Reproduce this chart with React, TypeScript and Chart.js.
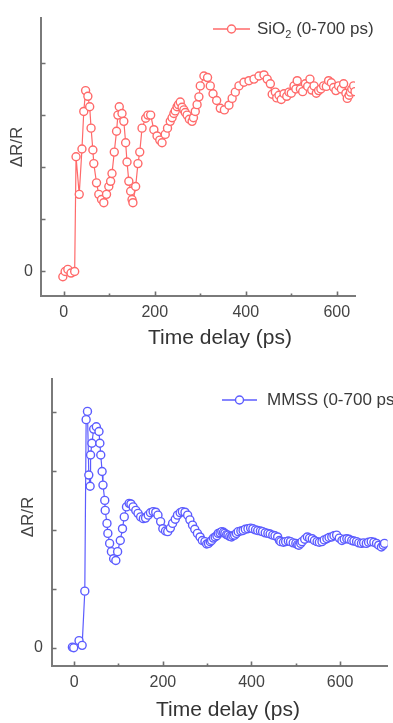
import React, { useEffect, useRef } from 'react';
import { Chart, registerables } from 'chart.js';

Chart.register(...registerables);

// ---------- data ----------
const sio2Time = [-2, 3, 9, 16, 24, 27, 34, 40, 44, 48, 53, 57, 60, 64, 66, 72, 77, 83, 88, 94, 99, 103, 106, 111, 116, 119, 122, 128, 132, 136, 139, 143, 147, 150, 152, 158, 163, 167, 172, 180, 185, 191, 198, 205, 211, 216, 223, 228, 234, 238, 242, 245, 249, 252, 256, 260, 264, 267, 271, 276, 282, 285, 289, 293, 297, 300, 308, 316, 322, 328, 336, 344, 353, 363, 370, 377, 385, 396, 407, 418, 429, 440, 447, 454, 458, 465, 468, 473, 478, 484, 490, 495, 500, 506, 510, 513, 520, 525, 531, 536, 541, 545, 550, 555, 560, 565, 571, 577, 582, 588, 593, 598, 604, 610, 615, 620, 623, 627, 630, 633, 637, 640];
const sio2Values = [-0.1, 0, 0.04, -0.03, 0, 2.2, 1.48, 2.35, 3.07, 3.47, 3.36, 3.16, 2.75, 2.33, 2.07, 1.7, 1.48, 1.38, 1.32, 1.48, 1.63, 1.73, 1.88, 2.29, 2.69, 3.0, 3.16, 3.03, 2.88, 2.47, 2.1, 1.73, 1.54, 1.38, 1.32, 1.63, 2.07, 2.29, 2.75, 2.94, 3.0, 3.0, 2.72, 2.6, 2.52, 2.47, 2.63, 2.75, 2.88, 2.95, 3.03, 3.08, 3.16, 3.2, 3.25, 3.15, 3.1, 3.05, 3.0, 2.92, 2.88, 2.95, 3.07, 3.2, 3.35, 3.56, 3.75, 3.72, 3.56, 3.41, 3.28, 3.13, 3.1, 3.19, 3.32, 3.44, 3.56, 3.63, 3.66, 3.69, 3.75, 3.77, 3.69, 3.6, 3.4, 3.44, 3.33, 3.38, 3.3, 3.41, 3.36, 3.44, 3.42, 3.56, 3.5, 3.66, 3.5, 3.45, 3.6, 3.55, 3.69, 3.48, 3.56, 3.42, 3.47, 3.5, 3.56, 3.55, 3.66, 3.62, 3.53, 3.47, 3.56, 3.5, 3.6, 3.42, 3.32, 3.38, 3.44, 3.5, 3.56, 3.45];

const mmssTime = [-4, -1, 11, 18, 24, 27, 30, 33, 36, 37, 40, 44, 50, 56, 58, 60, 63, 65, 69, 70, 74, 76, 80, 84, 89, 94, 98, 104, 109, 113, 118, 124, 128, 133, 139, 144, 150, 156, 161, 167, 172, 178, 184, 189, 195, 200, 206, 211, 217, 222, 228, 233, 239, 244, 250, 256, 261, 267, 272, 278, 284, 289, 295, 299, 303, 307, 310, 314, 318, 322, 325, 329, 333, 337, 340, 344, 347, 351, 355, 358, 362, 366, 370, 376, 381, 386, 392, 398, 403, 409, 414, 420, 425, 431, 437, 442, 448, 453, 459, 463, 466, 472, 477, 483, 488, 494, 500, 504, 507, 511, 514, 520, 526, 531, 537, 542, 548, 553, 559, 564, 570, 575, 581, 586, 592, 598, 604, 609, 615, 620, 626, 631, 637, 642, 648, 653, 659, 664, 670, 676, 682, 687, 693, 697, 700];
const mmssValues = [0.01, 0, 0.12, 0.04, 0.96, 3.87, 4.01, 2.93, 2.74, 3.27, 3.47, 3.71, 3.75, 3.67, 3.47, 3.27, 2.99, 2.76, 2.5, 2.33, 2.11, 1.94, 1.77, 1.63, 1.51, 1.48, 1.63, 1.82, 2.02, 2.22, 2.39, 2.45, 2.44, 2.39, 2.33, 2.28, 2.22, 2.19, 2.2, 2.25, 2.29, 2.31, 2.3, 2.25, 2.14, 2.02, 1.98, 1.97, 2.03, 2.11, 2.18, 2.25, 2.29, 2.31, 2.3, 2.25, 2.17, 2.08, 2.01, 1.94, 1.88, 1.82, 1.8, 1.76, 1.77, 1.8, 1.82, 1.86, 1.88, 1.9, 1.94, 1.95, 1.97, 1.96, 1.94, 1.92, 1.91, 1.89, 1.88, 1.9, 1.91, 1.94, 1.97, 1.98, 1.99, 2.01, 2.02, 2.03, 2.02, 2.0, 1.99, 1.98, 1.97, 1.95, 1.94, 1.93, 1.91, 1.9, 1.88, 1.82, 1.8, 1.79, 1.8, 1.81, 1.8, 1.78, 1.77, 1.75, 1.74, 1.77, 1.8, 1.84, 1.88, 1.86, 1.85, 1.82, 1.8, 1.79, 1.8, 1.83, 1.85, 1.87, 1.88, 1.9, 1.91, 1.86, 1.82, 1.84, 1.85, 1.84, 1.82, 1.81, 1.8, 1.78, 1.77, 1.78, 1.77, 1.79, 1.8, 1.79, 1.77, 1.74, 1.71, 1.74, 1.77];

const xTickValues = [0, 200, 400, 600];
const xMinorTickValues = [100, 300, 500];
const yTickValues = [0, 1, 2, 3, 4];

const xTitle = 'Time delay (ps)';
const yTitle = 'ΔR/R';

const FONT = "'Liberation Sans', Arial, Helvetica, sans-serif";

// ---------- plugins ----------
const inwardTicks = {
  id: 'inwardTicks',
  afterDraw(chart: any) {
    const { ctx, chartArea, scales } = chart;
    const x = scales.x;
    const y = scales.y;
    ctx.save();
    ctx.strokeStyle = '#6f6f6f';
    ctx.lineWidth = 1.6;
    ctx.beginPath();
    xTickValues.forEach((v) => {
      const px = Math.round(x.getPixelForValue(v)) + 0.5;
      ctx.moveTo(px, chartArea.bottom);
      ctx.lineTo(px, chartArea.bottom - 4.5);
    });
    xMinorTickValues.forEach((v) => {
      const px = Math.round(x.getPixelForValue(v)) + 0.5;
      ctx.moveTo(px, chartArea.bottom);
      ctx.lineTo(px, chartArea.bottom - 2.5);
    });
    yTickValues.forEach((v) => {
      const py = Math.round(y.getPixelForValue(v)) + 0.5;
      ctx.moveTo(chartArea.left, py);
      ctx.lineTo(chartArea.left + 4.5, py);
    });
    ctx.stroke();
    ctx.restore();
  },
};

const axisTitles = {
  id: 'axisTitles',
  afterDraw(chart: any, _args: any, opts: any) {
    if (!opts || !opts.xTitle) return;
    const { ctx } = chart;
    ctx.save();
    ctx.textAlign = 'center';
    ctx.textBaseline = 'middle';
    ctx.fillStyle = '#333333';
    ctx.font = `21px ${FONT}`;
    ctx.fillText(opts.xTitle, opts.xTitleX, opts.xTitleY);
    ctx.translate(opts.yTitleX, opts.yTitleY);
    ctx.rotate(-Math.PI / 2);
    ctx.fillStyle = '#444444';
    ctx.font = `17px ${FONT}`;
    ctx.fillText(opts.yTitle, 0, 0);
    ctx.restore();
  },
};

const panelLegend = {
  id: 'panelLegend',
  afterDraw(chart: any, _args: any, opts: any) {
    if (!opts || !opts.color) return;
    const { ctx } = chart;
    ctx.save();
    ctx.strokeStyle = opts.color;
    ctx.lineWidth = 1.3;
    ctx.beginPath();
    ctx.moveTo(opts.lineX0, opts.y);
    ctx.lineTo(opts.lineX1, opts.y);
    ctx.stroke();
    ctx.beginPath();
    ctx.arc((opts.lineX0 + opts.lineX1) / 2, opts.y, 4, 0, Math.PI * 2);
    ctx.fillStyle = '#ffffff';
    ctx.fill();
    ctx.lineWidth = 1.4;
    ctx.stroke();
    ctx.fillStyle = '#3a3a3a';
    ctx.textBaseline = 'middle';
    ctx.textAlign = 'left';
    ctx.font = `17px ${FONT}`;
    let tx = opts.textX;
    ctx.fillText(opts.text, tx, opts.y);
    tx += ctx.measureText(opts.text).width;
    if (opts.sub) {
      ctx.font = `11px ${FONT}`;
      ctx.fillText(opts.sub, tx, opts.y + 6);
      tx += ctx.measureText(opts.sub).width;
      ctx.font = `17px ${FONT}`;
      ctx.fillText(opts.rest, tx, opts.y);
    }
    ctx.restore();
  },
};

type PanelProps = {
  time: number[];
  values: number[];
  color: string;
  width: number;
  height: number;
  top: number;
  xMin: number;
  xMax: number;
  yMin: number;
  yMax: number;
  padTop: number;
  padRight: number;
  yAxisWidth: number;
  xAxisHeight: number;
  yTickPad: number;
  titles: any;
  legend: any;
};

function Panel(p: PanelProps) {
  const ref = useRef<HTMLCanvasElement | null>(null);
  useEffect(() => {
    if (!ref.current) return;
    const data = p.time.map((t, i) => ({ x: t, y: p.values[i] }));
    const chart = new Chart(ref.current, {
      type: 'line',
      data: {
        datasets: [
          {
            data,
            borderColor: p.color,
            borderWidth: 1.2,
            pointRadius: 4,
            pointBorderWidth: 1.4,
            pointBackgroundColor: '#ffffff',
            pointBorderColor: p.color,
            tension: 0,
            fill: false,
          },
        ],
      },
      options: {
        animation: false,
        responsive: false,
        devicePixelRatio: 1,
        layout: { padding: { top: p.padTop, right: p.padRight, left: 0, bottom: 0 } },
        plugins: {
          legend: { display: false },
          tooltip: { enabled: false },
          panelLegend: p.legend,
          axisTitles: p.titles,
        } as any,
        scales: {
          x: {
            type: 'linear',
            min: p.xMin,
            max: p.xMax,
            afterBuildTicks: (s: any) => {
              s.ticks = xTickValues.map((v) => ({ value: v }));
            },
            afterFit: (s: any) => {
              s.height = p.xAxisHeight;
            },
            ticks: {
              autoSkip: false,
              maxRotation: 0,
              padding: 7,
              color: '#444444',
              font: { family: FONT, size: 16 },
            },
            grid: { display: false, drawTicks: false },
            border: { display: true, color: '#7a7a7a', width: 2 },
            title: { display: false },
          },
          y: {
            type: 'linear',
            min: p.yMin,
            max: p.yMax,
            afterBuildTicks: (s: any) => {
              s.ticks = yTickValues.map((v) => ({ value: v }));
            },
            afterFit: (s: any) => {
              s.width = p.yAxisWidth;
            },
            ticks: {
              autoSkip: false,
              padding: p.yTickPad,
              color: '#444444',
              font: { family: FONT, size: 16 },
              callback: (v: any) => (v === 0 ? '0' : ''),
            },
            grid: { display: false, drawTicks: false },
            border: { display: true, color: '#7a7a7a', width: 2 },
            title: { display: false },
          },
        },
      } as any,
      plugins: [inwardTicks, panelLegend, axisTitles],
    });
    return () => chart.destroy();
  }, []);
  return (
    <canvas
      ref={ref}
      width={p.width}
      height={p.height}
      style={{ position: 'absolute', left: 0, top: p.top, width: p.width, height: p.height, display: 'block' }}
    />
  );
}

export default function App() {
  return (
    <div style={{ position: 'absolute', left: 0, top: 0, width: 393, height: 723, background: '#ffffff', overflow: 'hidden' }}>
      <Panel
        time={sio2Time}
        values={sio2Values}
        color="#ff6a6a"
        width={393}
        height={360}
        top={0}
        xMin={-50}
        xMax={640}
        yMin={-0.47}
        yMax={4.87}
        padTop={10}
        padRight={38}
        yAxisWidth={41}
        xAxisHeight={64}
        yTickPad={8}
        titles={{ xTitle, yTitle, xTitleX: 220, xTitleY: 338, yTitleX: 17, yTitleY: 147 }}
        legend={{ color: '#ff6a6a', lineX0: 213, lineX1: 250, y: 29, textX: 257, text: 'SiO', sub: '2', rest: ' (0-700 ps)' }}
      />
      <Panel
        time={mmssTime}
        values={mmssValues}
        color="#5c5cff"
        width={393}
        height={363}
        top={360}
        xMin={-50}
        xMax={707}
        yMin={-0.31}
        yMax={4.56}
        padTop={19}
        padRight={0}
        yAxisWidth={52}
        xAxisHeight={57}
        yTickPad={9}
        titles={{ xTitle, yTitle, xTitleX: 228, xTitleY: 350, yTitleX: 28, yTitleY: 157 }}
        legend={{ color: '#5c5cff', lineX0: 222, lineX1: 257, y: 40, textX: 267, text: 'MMSS (0-700 ps)' }}
      />
    </div>
  );
}
